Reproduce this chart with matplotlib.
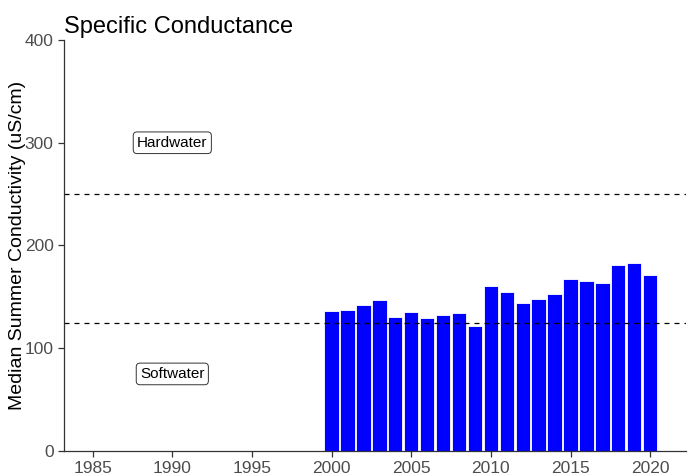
import numpy as np
import matplotlib
matplotlib.use("Agg")
import matplotlib.pyplot as plt

plt.rcParams['font.family'] = ['Liberation Sans', 'DejaVu Sans']

# median summer conductivity per year
years = list(range(2000, 2021))
conductivity = [136.7, 137.7, 141.9, 147.4, 130.2, 135.4, 129.3, 132.3, 134.3, 121.8,
                160.4, 154.6, 143.6, 148.1, 152.6, 167.5, 165.6, 163.7, 181.2, 183.4, 171.5]
thresholds = [125, 250]
labels = ["Softwater", "Hardwater"]
label_y = [75, 300]
label_x = 1990

fig = plt.figure(figsize=(6.91, 4.75), dpi=100)
ax = fig.add_axes([64/691, 24/475, 622/691, 411/475])

ax.bar(years, conductivity, width=0.9, color="#0000FF", edgecolor="white", linewidth=0.6)
for t in thresholds:
    ax.axhline(t, color="black", linestyle=(0, (4, 4)), linewidth=0.9)
for lab, ly in zip(labels, label_y):
    ax.text(label_x, ly, lab, ha="center", va="center", fontsize=11,
            bbox=dict(boxstyle="round,pad=0.25", fc="white", ec="#333333", lw=0.7))

ax.set_xlim(1983.2, 2022.25)
ax.set_ylim(0, 400)
ax.set_xticks([1985, 1990, 1995, 2000, 2005, 2010, 2015, 2020])
ax.set_yticks([0, 100, 200, 300, 400])
ax.spines['top'].set_visible(False)
ax.spines['right'].set_visible(False)
for s in ['left', 'bottom']:
    ax.spines[s].set_color("#333333")
    ax.spines[s].set_linewidth(0.9)
ax.tick_params(colors="#333333", labelcolor="#4D4D4D", labelsize=12.5, length=4, width=0.9)
ax.set_ylabel("Median Summer Conductivity (uS/cm)", fontsize=14, labelpad=-1)
ax.set_title("Specific Conductance", fontsize=17, loc="left", pad=5, x=0.0)

fig.savefig("out.png", dpi=100)
